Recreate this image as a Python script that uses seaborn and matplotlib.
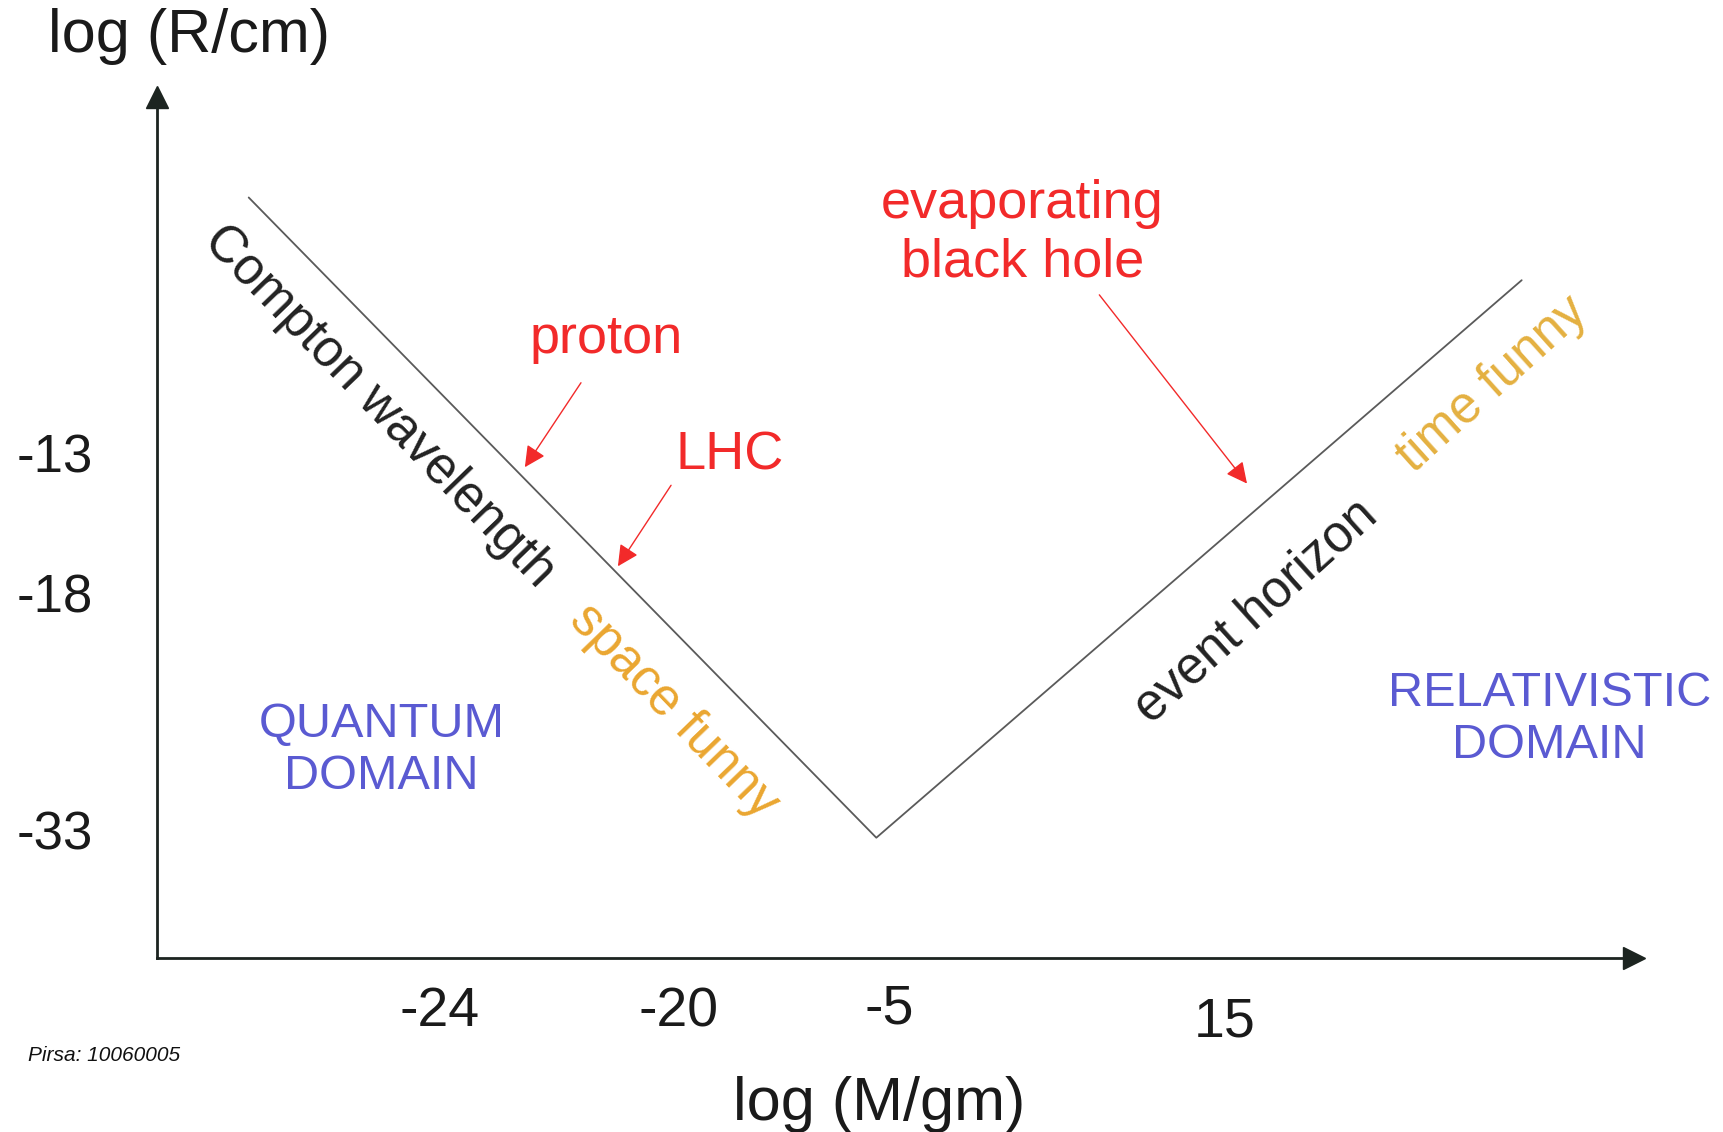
import matplotlib
matplotlib.use("Agg")
import matplotlib.pyplot as plt
import matplotlib.transforms as mtransforms
import pandas as pd
import seaborn as sns

# ── Data (schematic diagram units, 0-100 on both axes) ─────────────────────────
curve_x = [6.2, 48.7, 92.4]      # Compton start, minimum, horizon end
curve_y = [88.3, 14.0, 78.7]

xtick_pos = [19.1, 35.3, 49.6, 72.3]
xtick_labels = ["-24", "-20", "-5", "15"]
xtick_drop = [0, 0, -3, 10]      # small vertical offsets (px) seen in the picture
ytick_pos = [58.6, 42.4, 14.9]
ytick_labels = ["-13", "-18", "-33"]

# line labels: text, x, y, rotation, colour
line_text = ["Compton wavelength", "space funny", "event horizon", "time funny"]
line_text_x = [15.0, 35.0, 74.4, 90.4]
line_text_y = [64.0, 28.6, 40.2, 66.6]
line_text_rot = [-46, -46, 42, 42]
line_text_col = ["#222222", "#eaa630", "#222222", "#e4b040"]

# red call-outs: text, text position, arrow start, arrow tip
note_text = ["proton", "LHC", "evaporating\nblack hole"]
note_x = [30.4, 38.8, 58.6]
note_y = [71.9, 58.3, 84.2]
arrow_from_x = [28.7, 34.8, 63.8]
arrow_from_y = [66.8, 54.9, 77.0]
arrow_to_x = [24.9, 31.2, 73.8]
arrow_to_y = [57.0, 45.5, 55.1]

domain_text = ["QUANTUM\nDOMAIN", "RELATIVISTIC\nDOMAIN"]
domain_x = [15.2, 94.3]
domain_y = [24.1, 27.7]

RED = "#f22a2a"
BLUE = "#5a5ad2"
AXIS = "#1c2420"

sns.set_theme(style="white")
plt.rcParams["font.family"] = ["Liberation Sans", "DejaVu Sans"]

fig = plt.figure(figsize=(17.23, 11.32), dpi=100)
ax = fig.add_axes([0.0912, 0.1534, 0.8571, 0.7612])

df = pd.DataFrame({"x": curve_x, "y": curve_y})
sns.lineplot(data=df, x="x", y="y", sort=False, estimator=None,
             color="#5a5a5a", linewidth=1.3, ax=ax)

ax.set_xlim(0, 100)
ax.set_ylim(0, 100)

# axes as arrows
for side in ["top", "right"]:
    ax.spines[side].set_visible(False)
for side in ["left", "bottom"]:
    ax.spines[side].set_color(AXIS)
    ax.spines[side].set_linewidth(2.0)
ax.plot(1, 0, ">", color=AXIS, markersize=16, transform=ax.get_yaxis_transform(), clip_on=False)
ax.plot(0, 1, "^", color=AXIS, markersize=16, transform=ax.get_xaxis_transform(), clip_on=False)

ax.set_xticks(xtick_pos)
ax.set_xticklabels(xtick_labels, fontsize=40, color="#1a1a1a")
ax.set_yticks(ytick_pos)
ax.set_yticklabels(ytick_labels, fontsize=38, color="#1a1a1a")
ax.tick_params(axis="x", length=0, pad=20)
ax.tick_params(axis="y", length=0, pad=46)

for lab, d in zip(ax.get_xticklabels(), xtick_drop):
    lab.set_transform(lab.get_transform() +
                      mtransforms.ScaledTranslation(0, -d / 100, fig.dpi_scale_trans))

ax.set_xlabel("log (M/gm)", fontsize=44, color="#1a1a1a")
ax.xaxis.set_label_coords(0.489, -0.17)
ax.xaxis.label.set_va("center")
ax.set_ylabel("log (R/cm)", fontsize=44, rotation=0, color="#1a1a1a", ha="center", va="center")
ax.yaxis.set_label_coords(0.0216, 1.07)

for t, x, y, r, c in zip(line_text, line_text_x, line_text_y, line_text_rot, line_text_col):
    ax.text(x, y, t, rotation=r, color=c, fontsize=37, ha="center", va="center",
            rotation_mode="anchor")

for t, x, y in zip(note_text, note_x, note_y):
    ax.text(x, y, t, color=RED, fontsize=39, ha="center", va="center", linespacing=1.22)

for x0, y0, x1, y1 in zip(arrow_from_x, arrow_from_y, arrow_to_x, arrow_to_y):
    ax.annotate("", xy=(x1, y1), xytext=(x0, y0),
                arrowprops=dict(arrowstyle="-|>", color=RED, lw=1.0,
                                mutation_scale=32, shrinkA=0, shrinkB=0))

for t, x, y in zip(domain_text, domain_x, domain_y):
    ax.text(x, y, t, color=BLUE, fontsize=35, ha="center", va="center",
            linespacing=1.2, clip_on=False)

fig.text(0.016, 0.068, "Pirsa: 10060005", fontsize=15, style="italic",
         color="#111111", ha="left", va="center")

fig.savefig("out.png", dpi=100, facecolor="white")
